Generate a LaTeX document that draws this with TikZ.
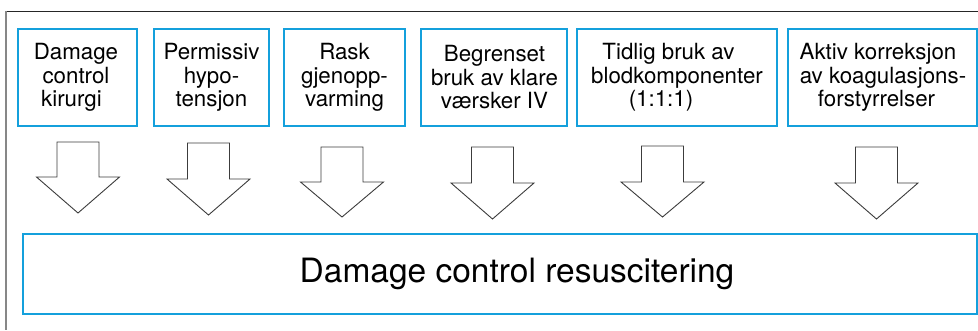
\documentclass[tikz,border=0pt]{standalone}
\usepackage{fontspec}
\setmainfont{TeX Gyre Heros}
\definecolor{boxblue}{RGB}{20,160,220}
\definecolor{framegray}{RGB}{135,135,135}
\definecolor{arrowgray}{RGB}{60,60,60}
\tikzset{
  topbox/.style={draw=boxblue, line width=2pt, fill=white},
  toptext/.style={align=center, font=\fontsize{22.3}{23.5}\selectfont, inner sep=0pt},
  blockarr/.style={draw=arrowgray, line width=0.9pt, fill=white, line join=miter},
}
\newcommand\blkarrow[4]{%
  \draw[blockarr] (#1-21,#2) -- (#1+21,#2) -- (#1+21,#3) -- (#1+41.5,#3) -- (#1,#4)
    -- (#1-41.5,#3) -- (#1-21,#3) -- cycle;}
\begin{document}
\begin{tikzpicture}[x=1pt,y=-1pt]
\useasboundingbox (0,0) rectangle (978,330);
% frame
\draw[color=black!85, line width=0.9pt] (6,11) -- (978,11);
\draw[color=framegray, line width=2pt] (6,11) -- (6,330);
% top boxes
\draw[topbox] (18,29) rectangle (137,126);
\draw[topbox] (154,29) rectangle (269,126);
\draw[topbox] (284,29) rectangle (405,126);
\draw[topbox] (421,29) rectangle (567,126);
\draw[topbox] (577,29) rectangle (777,126);
\draw[topbox] (788,29) rectangle (977,126);
\node[toptext] (b1) at (76,77.5) {Damage\\control\hspace*{4pt}\\kirurgi\hspace*{9pt}};
\node[toptext] (b2) at (211.5,77.5) {Permissiv\\hypo-\\tensjon};
\node[toptext] (b3) at (344.5,77.5) {Rask\\gjenopp-\\varming};
\node[toptext] (b4) at (494.5,77.5) {Begrenset\\bruk av klare\\værsker IV};
\node[toptext] (b5) at (677,77.5) {Tidlig bruk av\hspace*{17pt}\\blodkomponenter\\(1:1:1)\hspace*{32pt}};
\node[toptext] (b6) at (883,77.5) {Aktiv korreksjon\hspace*{10pt}\\av koagulasjons-\\forstyrrelser\hspace*{13pt}};
% block arrows
\blkarrow{78}{142}{177}{213}
\blkarrow{208.5}{143}{179}{215}
\blkarrow{342}{147}{182}{217}
\blkarrow{492.5}{147}{183}{219}
\blkarrow{662.5}{146}{182}{217}
\blkarrow{876.5}{147}{183}{219}
% bottom box
\draw[topbox] (23,234) rectangle (977,314);
\node[inner sep=0pt, font=\fontsize{33.5}{38}\selectfont] (res) at (517,274) {Damage control resuscitering};
\end{tikzpicture}
\end{document}
